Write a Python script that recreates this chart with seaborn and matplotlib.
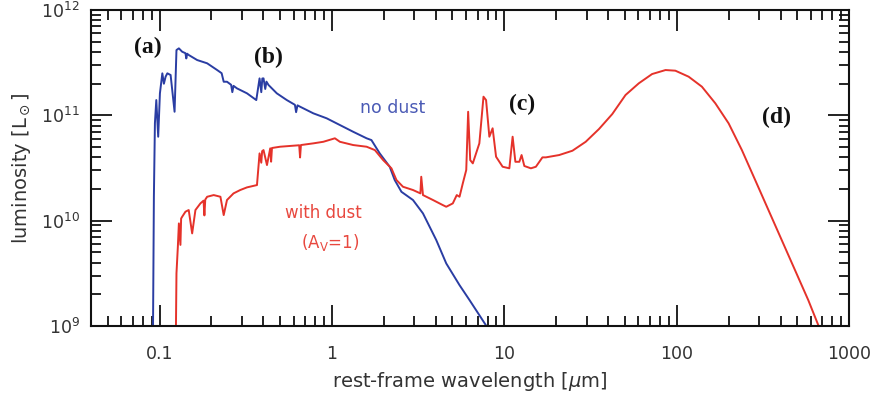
import numpy as np
import pandas as pd
import matplotlib
matplotlib.use("Agg")
import matplotlib.pyplot as plt
import seaborn as sns

# --- values: log10(wavelength / micron), log10(luminosity / Lsun) ---
log_wave_nodust = [-1.040, -1.033, -1.027, -1.019, -1.008, -0.998, -0.984, -0.975, -0.965, -0.955,
                   -0.936, -0.913, -0.902, -0.888, -0.869, -0.850, -0.845, -0.840, -0.831, -0.782,
                   -0.724, -0.666, -0.640, -0.628, -0.609, -0.585, -0.578, -0.571, -0.551, -0.493,
                   -0.439, -0.420, -0.410, -0.404, -0.397, -0.387, -0.380, -0.368, -0.320, -0.262,
                   -0.215, -0.208, -0.200, -0.185, -0.108, -0.031, 0.046, 0.123, 0.201, 0.229,
                   0.277, 0.335, 0.364, 0.403, 0.470, 0.528, 0.605, 0.663, 0.740, 0.798,
                   0.855, 0.896, 0.930]
log_lum_nodust = [8.500, 10.227, 10.927, 11.145, 10.797, 11.209, 11.399, 11.300, 11.367, 11.399,
                  11.383, 11.034, 11.620, 11.636, 11.604, 11.590, 11.540, 11.585, 11.573, 11.525,
                  11.494, 11.430, 11.400, 11.319, 11.319, 11.290, 11.220, 11.280, 11.256, 11.209,
                  11.145, 11.351, 11.220, 11.350, 11.351, 11.250, 11.320, 11.288, 11.209, 11.145,
                  11.100, 11.030, 11.095, 11.082, 11.019, 10.972, 10.908, 10.844, 10.782, 10.765,
                  10.639, 10.512, 10.386, 10.274, 10.196, 10.069, 9.816, 9.594, 9.388, 9.246,
                  9.103, 9.000, 8.800]

log_wave_dust = [-0.908, -0.902, -0.894, -0.888, -0.879, -0.875, -0.869, -0.850, -0.831, -0.811,
                 -0.792, -0.763, -0.745, -0.740, -0.735, -0.724, -0.686, -0.647, -0.628, -0.609,
                 -0.571, -0.532, -0.493, -0.435, -0.420, -0.410, -0.405, -0.397, -0.377, -0.358,
                 -0.353, -0.348, -0.301, -0.190, -0.185, -0.180, -0.108, -0.050, 0.017, 0.046,
                 0.123, 0.201, 0.249, 0.297, 0.345, 0.374, 0.412, 0.470, 0.513, 0.518,
                 0.528, 0.586, 0.643, 0.663, 0.701, 0.724, 0.740, 0.759, 0.779, 0.790,
                 0.802, 0.817, 0.855, 0.879, 0.894, 0.913, 0.932, 0.952, 0.990, 1.029,
                 1.048, 1.064, 1.087, 1.100, 1.116, 1.154, 1.183, 1.221, 1.241, 1.318,
                 1.395, 1.472, 1.549, 1.626, 1.703, 1.780, 1.857, 1.935, 1.992, 2.069,
                 2.146, 2.224, 2.301, 2.378, 2.455, 2.532, 2.609, 2.686, 2.763, 2.821,
                 2.844]
log_lum_dust = [8.500, 9.500, 9.752, 9.974, 9.770, 10.020, 10.037, 10.085, 10.101, 9.879,
                10.101, 10.164, 10.190, 10.050, 10.200, 10.227, 10.243, 10.227, 10.053, 10.196,
                10.259, 10.291, 10.316, 10.338, 10.639, 10.550, 10.660, 10.670, 10.528, 10.687,
                10.560, 10.690, 10.702, 10.716, 10.600, 10.718, 10.734, 10.749, 10.782, 10.749,
                10.718, 10.702, 10.670, 10.575, 10.497, 10.386, 10.322, 10.291, 10.259, 10.417,
                10.243, 10.196, 10.148, 10.132, 10.164, 10.243, 10.227, 10.354, 10.481, 11.034,
                10.575, 10.544, 10.734, 11.177, 11.145, 10.797, 10.877, 10.607, 10.512, 10.497,
                10.797, 10.559, 10.559, 10.623, 10.519, 10.497, 10.512, 10.601, 10.601, 10.623,
                10.664, 10.749, 10.870, 11.012, 11.193, 11.304, 11.392, 11.430, 11.424, 11.367,
                11.272, 11.114, 10.924, 10.670, 10.386, 10.101, 9.816, 9.531, 9.246, 9.009,
                8.910]

x_ticks = [0.1, 1, 10, 100, 1000]
x_ticklabels = ["0.1", "1", "10", "100", "1000"]

blue = "#2a3da3"
red = "#e5322a"

df_nodust = pd.DataFrame({"wave": np.power(10.0, log_wave_nodust),
                          "lum": np.power(10.0, log_lum_nodust)})
df_dust = pd.DataFrame({"wave": np.power(10.0, log_wave_dust),
                        "lum": np.power(10.0, log_lum_dust)})

sns.set_theme(style="ticks")
plt.rcParams["font.family"] = ["DejaVu Sans"]
plt.rcParams["mathtext.fontset"] = "dejavusans"

fig = plt.figure(figsize=(8.79, 3.94), dpi=100)
ax = fig.add_axes([0.1035, 0.1726, 0.8625, 0.802])

sns.lineplot(data=df_nodust, x="wave", y="lum", ax=ax, color=blue, lw=1.4,
             sort=False, estimator=None)
sns.lineplot(data=df_dust, x="wave", y="lum", ax=ax, color=red, lw=1.4,
             sort=False, estimator=None)

ax.set_xscale("log")
ax.set_yscale("log")
ax.set_xlim(0.04, 1000)
ax.set_ylim(1e9, 1e12)
ax.set_xticks(x_ticks, labels=x_ticklabels)

for s in ax.spines.values():
    s.set_linewidth(1.5)
    s.set_color("#111111")
ax.tick_params(which="both", direction="in", top=True, right=True,
               colors="#111111", labelcolor="#333333", labelsize=12.5, width=1.3)
ax.tick_params(which="major", length=15)
ax.tick_params(which="minor", length=7.5)
ax.tick_params(axis="x", which="major", pad=14)
ax.tick_params(axis="y", which="major", pad=8)

ax.set_xlabel(r"rest-frame wavelength [$\mu$m]", fontsize=14, color="#333333", labelpad=5)
ax.set_ylabel(r"luminosity [L$_\odot$]", fontsize=14, color="#333333", labelpad=6)

# panel letters
for lab, xf, yf in [("(a)", 0.075, 0.880), ("(b)", 0.2335, 0.851),
                    ("(c)", 0.5686, 0.7025), ("(d)", 0.9037, 0.661)]:
    ax.text(xf, yf, lab, transform=ax.transAxes, ha="center", va="center",
            fontsize=17, fontweight="bold", family="Liberation Serif", color="#111111")

ax.text(0.398, 0.690, "no dust", transform=ax.transAxes, ha="center", va="center",
        fontsize=12.5, color="#4a5ab5")
ax.text(0.307, 0.358, "with dust", transform=ax.transAxes, ha="center", va="center",
        fontsize=12, color="#e8483f")
ax.text(0.315, 0.263, r"(A$_\mathregular{V}$=1)", transform=ax.transAxes, ha="center", va="center",
        fontsize=12, color="#e8483f")

fig.savefig("out.png", dpi=100)
